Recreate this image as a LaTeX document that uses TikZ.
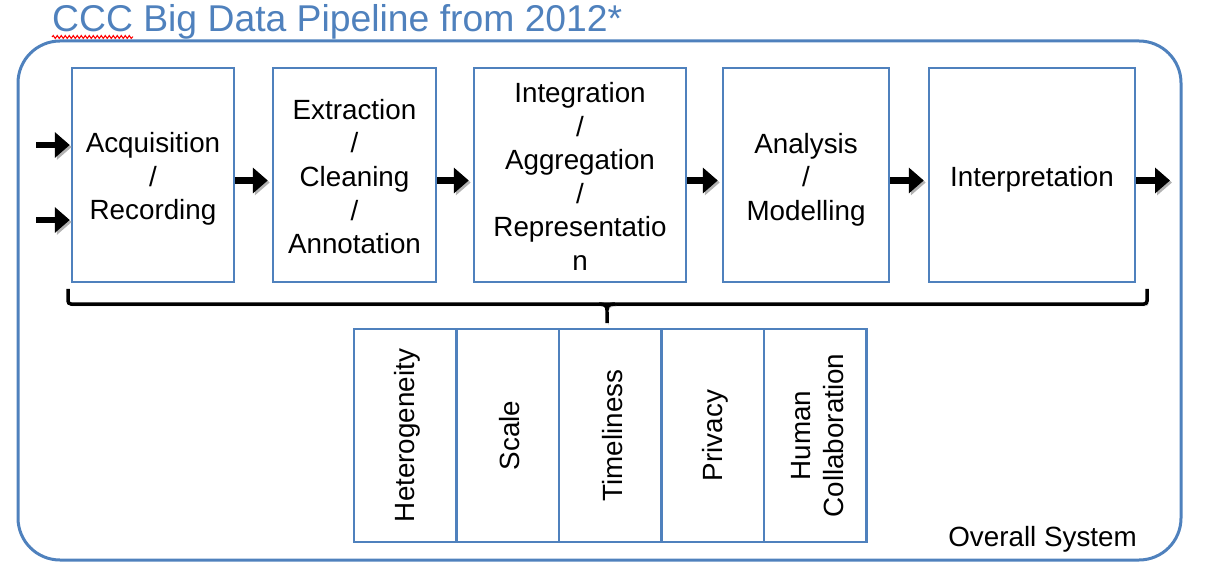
\documentclass[tikz,border=0pt]{standalone}
\usepackage{fontspec}
\setmainfont{Liberation Sans}
\usetikzlibrary{arrows.meta,decorations.pathmorphing}
\definecolor{boxblue}{HTML}{4F81BD}
\definecolor{titleblue}{HTML}{4F81BD}
\begin{document}
\begin{tikzpicture}[x=1pt,y=-1pt,
  stage/.style={draw=boxblue, line width=2.5pt, fill=white, inner sep=0pt, minimum height=214pt},
  stagetext/.style={align=center, font=\fontsize{27.8}{33.6}\selectfont, inner sep=0pt},
  cell/.style={draw=boxblue, line width=2.5pt, fill=white, inner sep=0pt,
    minimum height=213pt, minimum width=102.5pt},
  celltext/.style={align=center, font=\fontsize{27.8}{33.6}\selectfont, inner sep=0pt, rotate=90, yshift=-2.5pt},
  flow/.style={line width=6.5pt, black, -{Triangle[length=15pt,width=25pt]}, shorten >=4pt,
    preaction={draw=black!30, transform canvas={shift={(2pt,-2pt)}}}},
  bracestyle/.style={line width=3.5pt, black, rounded corners=3pt,
    preaction={draw=black!30, transform canvas={shift={(1.5pt,-2pt)}}}}
]
\useasboundingbox (0,0) rectangle (1207,569);

% title
\node[anchor=base west, inner sep=0pt, text=titleblue, font=\fontsize{37.3}{40}\selectfont] (title) at (52,31.5) {CCC Big Data Pipeline from 2012*};
\draw[red, line width=1pt, decorate, decoration={snake, amplitude=1.5pt, segment length=4pt}] (52,37) -- (133,37);

% overall system frame
\node[draw=boxblue, line width=3pt, rounded corners=42pt, minimum width=1163pt, minimum height=519pt, inner sep=0pt] (sys) at (599.5,300.5) {};
\node[anchor=base east, inner sep=0pt, font=\fontsize{27.8}{33.6}\selectfont] (overall) at (1137,546) {Overall System};

% stages
\node[stage, minimum width=162pt] (b1) at (153,175) {};
\node[stage, minimum width=163pt] (b2) at (354.5,175) {};
\node[stage, minimum width=212pt] (b3) at (580,175) {};
\node[stage, minimum width=166pt] (b4) at (806,175) {};
\node[stage, minimum width=206pt] (b5) at (1032,175) {};
\node[stagetext, yshift=-4pt] (t1) at (b1) {Acquisition\\/\\Recording};
\node[stagetext, yshift=-1.5pt] (t2) at (b2) {Extraction\\/\\Cleaning\\/\\Annotation};
\node[stagetext, yshift=-1.5pt] (t3) at (b3) {Integration\\/\\Aggregation\\/\\Representatio\\n};
\node[stagetext, yshift=-4.5pt] (t4) at (b4) {Analysis\\/\\Modelling};
\node[stagetext, yshift=-4pt] (t5) at (b5) {Interpretation};

% arrows
\coordinate (in1) at (36,145);
\coordinate (in2) at (36,220);
\coordinate (out) at (1174,180.5);
\draw[flow, shorten >=1pt] (in1) -- (in1 -| b1.west);
\draw[flow, shorten >=1pt] (in2) -- (in2 -| b1.west);
\draw[flow] ([yshift=-5.5pt]b1.east) -- ([yshift=-5.5pt]b2.west);
\draw[flow] ([yshift=-5.5pt]b2.east) -- ([yshift=-5.5pt]b3.west);
\draw[flow] ([yshift=-5.5pt]b3.east) -- ([yshift=-5.5pt]b4.west);
\draw[flow] ([yshift=-5.5pt]b4.east) -- ([yshift=-5.5pt]b5.west);
\draw[flow] ([yshift=-5.5pt]b5.east) -- (out);

% brace
\coordinate (brL) at (68,289);
\coordinate (brR) at (1147,289);
\coordinate (brT) at (607,323);
\draw[bracestyle] (brL) -- (68,304) -- (1147,304) -- (brR);
\draw[bracestyle, rounded corners=0pt] (599,304) .. controls (605,304) and (607,306) .. (607,310) -- (brT);
\draw[bracestyle, rounded corners=0pt] (615,304) .. controls (609,304) and (607,306) .. (607,310);

% challenges
\node[cell] (c1) at (405,435.5) {};
\node[cell] (c2) at (507.5,435.5) {};
\node[cell] (c3) at (610,435.5) {};
\node[cell] (c4) at (712.5,435.5) {};
\node[cell] (c5) at (815,435.5) {};
\node[celltext] (h1) at (c1) {Heterogeneity};
\node[celltext] (h2) at (c2) {Scale};
\node[celltext] (h3) at (c3) {Timeliness};
\node[celltext] (h4) at (c4) {Privacy};
\node[celltext] (h5) at (c5) {Human\\Collaboration};
\end{tikzpicture}
\end{document}
